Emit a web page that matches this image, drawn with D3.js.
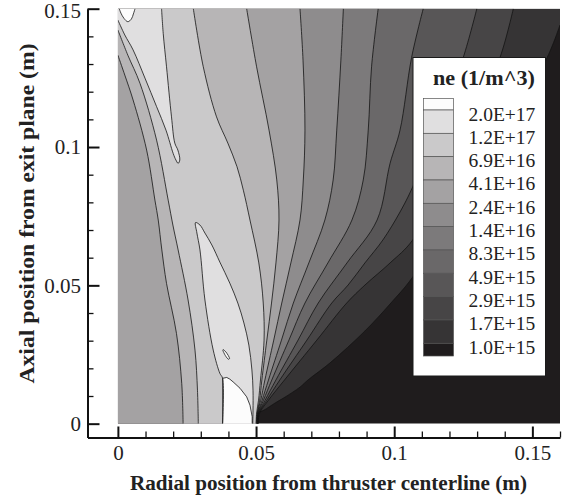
<!DOCTYPE html>
<html><head><meta charset="utf-8">
<script src="https://cdn.jsdelivr.net/npm/d3@7"></script>
<style>body{margin:0;background:#fff}svg{display:block}</style>
</head><body><svg id="c" width="567" height="499"></svg>
<script>
// ---------- data ----------
const xTicksMajor = [0, 0.05, 0.1, 0.15];
const xTickLabels = ["0", "0.05", "0.1", "0.15"];
const yTicksMajor = [0, 0.05, 0.1, 0.15];
const yTickLabels = ["0", "0.05", "0.1", "0.15"];
const xTicksMinor = [0.01,0.02,0.03,0.04,0.06,0.07,0.08,0.09,0.11,0.12,0.13,0.14,0.16];
const yTicksMinor = [0.01,0.02,0.03,0.04,0.06,0.07,0.08,0.09,0.11,0.12,0.13,0.14];
const legendLevels = ["2.0E+17","1.2E+17","6.9E+16","4.1E+16","2.4E+16","1.4E+16","8.3E+15","4.9E+15","2.9E+15","1.7E+15","1.0E+15"];
// band 0 (< 1.0E+15) ... band 11 (> 2.0E+17)
const bandColors = ["#1f1c1d","#363435","#474546","#585657","#6a6869","#7c7a7b","#8e8c8d","#a4a2a3","#b7b5b6","#cac9ca","#e0dfe0","#fcfcfc"];

// contour lines, points [r, z] in metres
const c1_0E15 = [[0.0508,0],[0.0508,0.0038],[0.0529,0.0049],[0.0568,0.0074],[0.0605,0.0096],[0.0659,0.0132],[0.0688,0.0158],[0.0767,0.0219],[0.0894,0.0335],[0.0988,0.0436],[0.1067,0.0530],[0.1310,0.0917],[0.1549,0.1314],[0.16,0.1441]];
const c1_7E15 = [[0.0507,0],[0.0513,0.0038],[0.0545,0.0085],[0.0603,0.0158],[0.0720,0.0302],[0.0828,0.0436],[0.0894,0.0501],[0.0985,0.0581],[0.1067,0.0664],[0.1238,0.0989],[0.1383,0.1324],[0.1431,0.15]];
const c2_9E15 = [[0.0507,0],[0.0511,0.0038],[0.0539,0.0085],[0.0586,0.0158],[0.0684,0.0302],[0.0774,0.0436],[0.0833,0.0501],[0.0894,0.0581],[0.0959,0.0664],[0.1021,0.0765],[0.1067,0.0856],[0.1166,0.1098],[0.1250,0.1324],[0.1299,0.15]];
const c4_9E15 = [[0.0506,0],[0.0510,0.0038],[0.0533,0.0085],[0.0572,0.0158],[0.0652,0.0302],[0.0725,0.0436],[0.0829,0.0581],[0.0938,0.0736],[0.0985,0.0941],[0.1021,0.1061],[0.1063,0.1324],[0.1105,0.15]];
const c8_3E15 = [[0.0505,0],[0.0508,0.0038],[0.0527,0.0085],[0.0557,0.0158],[0.0619,0.0302],[0.0677,0.0436],[0.0760,0.0581],[0.0847,0.0736],[0.0888,0.0881],[0.0906,0.1061],[0.0918,0.1290],[0.0942,0.15]];
const c1_4E16 = [[0.0504,0],[0.0507,0.0038],[0.0522,0.0085],[0.0545,0.0158],[0.0592,0.0302],[0.0635,0.0436],[0.0691,0.0581],[0.0749,0.0736],[0.0779,0.0881],[0.0792,0.1061],[0.0807,0.1314],[0.0816,0.15]];
const c2_4E16 = [[0.0503,0],[0.0505,0.0038],[0.0517,0.0085],[0.0532,0.0158],[0.0564,0.0302],[0.0593,0.0436],[0.0626,0.0581],[0.0659,0.0736],[0.0671,0.0881],[0.0677,0.1061],[0.0670,0.1314],[0.0659,0.15]];
const c4_1E16_outer = [[0.0501,0],[0.0504,0.0038],[0.0513,0.0085],[0.0521,0.0158],[0.0539,0.0302],[0.0556,0.0436],[0.0572,0.0581],[0.0583,0.0736],[0.0575,0.0881],[0.0547,0.1061],[0.0502,0.1290],[0.0466,0.15]];
const c4_1E16_inner = [[0,0.1332],[0.0025,0.1260],[0.0055,0.1170],[0.0104,0.0989],[0.0134,0.0808],[0.0146,0.0736],[0.0159,0.0628],[0.0176,0.0507],[0.0212,0.0326],[0.0231,0.0146],[0.0236,0]];
const c6_9E16_outer = [[0.0500,0],[0.0502,0.0038],[0.0509,0.0085],[0.0516,0.0158],[0.0529,0.0302],[0.0526,0.0436],[0.0510,0.0581],[0.0478,0.0736],[0.0454,0.0844],[0.0431,0.0929],[0.0398,0.1014],[0.0357,0.1109],[0.0309,0.1290],[0.0273,0.15]];
const c6_9E16_inner = [[0,0.1423],[0.0036,0.1332],[0.0080,0.1230],[0.0140,0.1025],[0.0182,0.0808],[0.0199,0.0718],[0.0218,0.0628],[0.0254,0.0447],[0.0279,0.0266],[0.0288,0.0121],[0.0291,0]];
const c1_2E17_upper = [[0,0.1459],[0.0025,0.1405],[0.0055,0.1351],[0.0098,0.1249],[0.0140,0.1146],[0.0174,0.1061],[0.0200,0.0977],[0.0210,0.0953],[0.0218,0.0941],[0.0224,0.0953],[0.0217,0.0989],[0.0206,0.1014],[0.0194,0.1109],[0.0176,0.1290],[0.0164,0.1411],[0.0158,0.15]];
const c1_2E17_lower = [[0.0379,0],[0.0379,0.0164],[0.0369,0.0182],[0.0345,0.0266],[0.0315,0.0447],[0.0297,0.0628],[0.0286,0.0689],[0.0281,0.0727],[0.0297,0.0718],[0.0315,0.0689],[0.0340,0.0646],[0.0369,0.0584],[0.0405,0.0508],[0.0434,0.0436],[0.0456,0.0364],[0.0474,0.0284],[0.0485,0.0194],[0.0489,0.0121],[0.0489,0.0049],[0.0488,0]];
const c2_0E17_top = [[0.0005,0.15],[0.0011,0.1484],[0.0022,0.1465],[0.0036,0.1453],[0.0049,0.1463],[0.0056,0.1481],[0.0062,0.15]];
const c2_0E17_exit = [[0.0379,0],[0.0379,0.0164],[0.0394,0.0167],[0.0405,0.0161],[0.0417,0.0151],[0.0442,0.0128],[0.0466,0.0097],[0.0478,0.0067],[0.0486,0.0025],[0.0486,0]];
const c2_0E17_island = [[0.0381,0.0268],[0.0391,0.0259],[0.0404,0.0235],[0.0400,0.0233],[0.0389,0.0246],[0.0380,0.0264]];

// ---------- drawing ----------
const svg = d3.select("#c");
const FONT = "'Liberation Serif','Times New Roman',serif";
const x = d3.scaleLinear().domain([-0.011, 0.16]).range([87.5, 560]);
const y = d3.scaleLinear().domain([-0.005, 0.15]).range([437.5, 8.7]);
const RMAX = 0.16, ZMAX = 0.15;

svg.append("defs").append("clipPath").attr("id","clip")
  .append("rect").attr("x", x(0)).attr("y", y(ZMAX))
  .attr("width", x(RMAX)-x(0)).attr("height", y(0)-y(ZMAX));

const smooth = d3.line().x(d=>x(d[0])).y(d=>y(d[1])).curve(d3.curveCatmullRom.alpha(0.5));
const straight = d3.line().x(d=>x(d[0])).y(d=>y(d[1]));
const pt = p => `L${x(p[0])},${y(p[1])}`;
function fillPath(pieces, corners, gen){
  gen = gen || smooth;
  let s = "";
  pieces.forEach((p,i)=>{ const d = gen(p); s += (i===0 ? d : "L"+d.slice(1)); });
  corners.forEach(c => s += pt(c));
  return s + "Z";
}

const plot = svg.append("g").attr("clip-path","url(#clip)");
plot.append("rect").attr("x", x(0)).attr("y", y(ZMAX))
  .attr("width", x(RMAX)-x(0)).attr("height", y(0)-y(ZMAX)).attr("fill", bandColors[0]);

const fan = [c1_0E15, c1_7E15, c2_9E15, c4_9E15, c8_3E15, c1_4E16, c2_4E16];
fan.forEach((L,k)=>{
  const last = L[L.length-1];
  const corners = last[0] >= RMAX ? [[RMAX,ZMAX],[0,ZMAX],[0,0]] : [[0,ZMAX],[0,0]];
  plot.append("path").attr("d", fillPath([L], corners)).attr("fill", bandColors[k+1]);
});
plot.append("path").attr("d", fillPath([c4_1E16_inner, c4_1E16_outer], [[0,ZMAX]])).attr("fill", bandColors[8]);
plot.append("path").attr("d", fillPath([c6_9E16_inner, c6_9E16_outer], [[0,ZMAX]])).attr("fill", bandColors[9]);
plot.append("path").attr("d", fillPath([c1_2E17_upper], [[0,ZMAX]])).attr("fill", bandColors[10]);
plot.append("path").attr("d", fillPath([c1_2E17_lower], [])).attr("fill", bandColors[10]);
plot.append("path").attr("d", fillPath([c2_0E17_top], [])).attr("fill", bandColors[11]);
plot.append("path").attr("d", fillPath([c2_0E17_exit], [], straight)).attr("fill", bandColors[11]);
plot.append("path").attr("d", fillPath([c2_0E17_island], [])).attr("fill", bandColors[11]);

const smoothLines = [c1_0E15, c1_7E15, c2_9E15, c4_9E15, c8_3E15, c1_4E16, c2_4E16,
  c4_1E16_outer, c4_1E16_inner, c6_9E16_outer, c6_9E16_inner, c1_2E17_upper, c1_2E17_lower,
  c2_0E17_top];
plot.selectAll("path.cl").data(smoothLines).join("path").attr("class","cl")
  .attr("d", smooth).attr("fill","none").attr("stroke","#141414").attr("stroke-width",0.8);
plot.append("path").attr("d", straight(c2_0E17_exit)).attr("fill","none")
  .attr("stroke","#141414").attr("stroke-width",0.8);
plot.append("path").attr("d", fillPath([c2_0E17_island], [])).attr("fill","none")
  .attr("stroke","#141414").attr("stroke-width",0.8);

// ---------- axes ----------
function styleAxis(g){
  g.selectAll("path.domain").attr("stroke","#111").attr("stroke-width",2);
  g.selectAll(".tick line").attr("stroke","#111");
  g.selectAll("text").attr("font-family",FONT).attr("font-size","21px").attr("fill","#222");
}
const xAxis = svg.append("g").attr("transform",`translate(0,${y.range()[0]})`)
  .call(d3.axisBottom(x).tickValues(xTicksMajor).tickFormat((d,i)=>xTickLabels[i])
    .tickSizeInner(-11).tickSizeOuter(0).tickPadding(7.5));
styleAxis(xAxis);
xAxis.selectAll(".tick line").attr("stroke-width",2);
const xMinor = svg.append("g").attr("transform",`translate(0,${y.range()[0]})`)
  .call(d3.axisBottom(x).tickValues(xTicksMinor).tickFormat("").tickSizeInner(-6).tickSizeOuter(0));
xMinor.select("path.domain").remove();
xMinor.selectAll(".tick line").attr("stroke","#111").attr("stroke-width",1.3);

const yAxis = svg.append("g").attr("transform",`translate(${x.range()[0]},0)`)
  .call(d3.axisLeft(y).tickValues(yTicksMajor).tickFormat((d,i)=>yTickLabels[i])
    .tickSizeInner(-12).tickSizeOuter(0).tickPadding(6.5));
styleAxis(yAxis);
yAxis.selectAll(".tick line").attr("stroke-width",2);
yAxis.selectAll(".tick text").filter(d=>d===0.15).attr("dy","0.42em");
const yMinor = svg.append("g").attr("transform",`translate(${x.range()[0]},0)`)
  .call(d3.axisLeft(y).tickValues(yTicksMinor).tickFormat("").tickSizeInner(-6).tickSizeOuter(0));
yMinor.select("path.domain").remove();
yMinor.selectAll(".tick line").attr("stroke","#111").attr("stroke-width",1.3);

svg.append("text").attr("x",328.5).attr("y",490).attr("text-anchor","middle")
  .attr("font-family",FONT).attr("font-weight","bold").attr("font-size","20px").attr("fill","#222")
  .attr("textLength",397).attr("lengthAdjust","spacingAndGlyphs")
  .text("Radial position from thruster centerline (m)");
svg.append("text").attr("transform","translate(34,213.5) rotate(-90)").attr("text-anchor","middle")
  .attr("font-family",FONT).attr("font-weight","bold").attr("font-size","20px").attr("fill","#222")
  .attr("textLength",340).attr("lengthAdjust","spacingAndGlyphs")
  .text("Axial position from exit plane (m)");

// ---------- legend ----------
const lg = svg.append("g");
lg.append("rect").attr("x",413).attr("y",57.5).attr("width",132.5).attr("height",318.5)
  .attr("fill","#fff").attr("stroke","#1a1a1a").attr("stroke-width",1);
lg.append("text").attr("x",535).attr("y",85).attr("text-anchor","end")
  .attr("font-family",FONT).attr("font-weight","bold").attr("font-size","21px").attr("fill","#222")
  .attr("textLength",102).attr("lengthAdjust","spacingAndGlyphs")
  .text("ne (1/m^3)");
const step = 23.33, b0 = 110;
const swatches = d3.range(12).map(i=>{ // top to bottom: band 11 ... band 0
  const band = 11 - i;
  let y0, h;
  if (band === 11){ y0 = b0 - 11.5; h = 11.5; }
  else if (band === 0){ y0 = b0 + 10*step; h = 12.7; }
  else { y0 = b0 + (10-band)*step; h = step; }
  return {band, y0, h};
});
lg.selectAll("rect.sw").data(swatches).join("rect").attr("class","sw")
  .attr("x",423.5).attr("y",d=>d.y0).attr("width",30).attr("height",d=>d.h)
  .attr("fill",d=>bandColors[d.band]).attr("stroke","#555").attr("stroke-width",0.7);
lg.selectAll("text.lv").data(legendLevels).join("text").attr("class","lv")
  .attr("x",468.5).attr("y",(d,i)=>b0 + i*step + 10.5)
  .attr("font-family",FONT).attr("font-size","19.5px").attr("fill","#222")
  .text(d=>d);
</script></body></html>
